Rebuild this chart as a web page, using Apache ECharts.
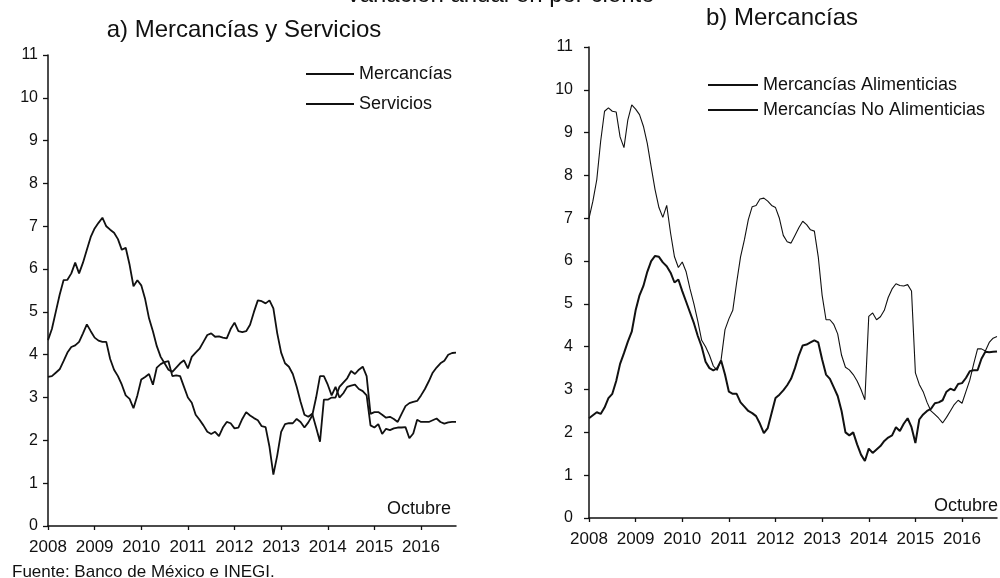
<!DOCTYPE html>
<html>
<head>
<meta charset="utf-8">
<script src="https://cdn.jsdelivr.net/npm/echarts@6/dist/echarts.min.js"></script>
<style>
html,body{margin:0;padding:0;background:#fff;}
#c{width:1000px;height:578px;}
</style>
</head>
<body>
<div id="c"></div>
<script>
// ---- data (monthly, Jan 2008 - Oct 2016) ----
const years = ['2008','2009','2010','2011','2012','2013','2014','2015','2016'];
const lastYearMonths = 10; // through Octubre 2016

const mercancias = [4.34,4.6,5.0,5.4,5.74,5.75,5.9,6.15,5.9,6.15,6.45,6.75,6.95,7.08,7.2,7.0,6.92,6.85,6.7,6.45,6.5,6.1,5.6,5.74,5.62,5.3,4.85,4.55,4.2,3.95,3.8,3.65,3.6,3.7,3.8,3.87,3.68,3.95,4.05,4.14,4.3,4.46,4.5,4.42,4.43,4.4,4.38,4.6,4.75,4.55,4.53,4.55,4.7,5.0,5.27,5.25,5.2,5.27,5.08,4.5,4.05,3.8,3.72,3.55,3.25,2.9,2.6,2.55,2.62,2.3,1.97,2.95,2.95,3.0,3.0,3.25,3.35,3.45,3.62,3.55,3.65,3.72,3.5,2.62,2.66,2.66,2.6,2.53,2.55,2.5,2.43,2.62,2.8,2.87,2.9,2.92,3.05,3.2,3.38,3.58,3.7,3.8,3.86,4.0,4.04,4.05];
const servicios = [3.48,3.5,3.58,3.66,3.85,4.05,4.18,4.22,4.3,4.5,4.71,4.55,4.4,4.33,4.3,4.3,3.9,3.65,3.5,3.3,3.05,2.97,2.75,3.05,3.42,3.48,3.55,3.3,3.7,3.78,3.83,3.85,3.5,3.52,3.5,3.25,3.0,2.88,2.6,2.48,2.35,2.2,2.15,2.2,2.1,2.3,2.43,2.4,2.28,2.3,2.5,2.66,2.58,2.52,2.47,2.33,2.31,1.85,1.2,1.65,2.2,2.38,2.4,2.4,2.5,2.43,2.3,2.42,2.58,3.0,3.5,3.5,3.3,3.05,3.25,3.0,3.1,3.25,3.28,3.3,3.2,3.15,3.05,2.35,2.3,2.38,2.15,2.27,2.24,2.28,2.3,2.3,2.31,2.05,2.16,2.48,2.43,2.43,2.43,2.47,2.51,2.43,2.39,2.42,2.43,2.43];
const alimenticias = [7.0,7.4,7.9,8.8,9.5,9.58,9.5,9.48,8.9,8.65,9.3,9.65,9.55,9.42,9.15,8.75,8.2,7.67,7.25,7.02,7.3,6.65,6.1,5.85,5.98,5.75,5.35,5.0,4.6,4.15,4.0,3.8,3.55,3.45,3.7,4.4,4.65,4.85,5.5,6.1,6.5,6.97,7.27,7.3,7.45,7.47,7.4,7.3,7.25,7.0,6.6,6.45,6.42,6.6,6.78,6.93,6.85,6.73,6.7,6.1,5.2,4.63,4.63,4.52,4.3,3.8,3.52,3.46,3.35,3.2,3.0,2.76,4.71,4.79,4.63,4.7,4.85,5.15,5.35,5.47,5.43,5.42,5.45,5.3,3.39,3.12,2.95,2.7,2.5,2.42,2.33,2.22,2.35,2.5,2.65,2.75,2.68,2.95,3.22,3.6,3.95,3.95,3.9,4.1,4.2,4.24];
const noAlimenticias = [2.33,2.4,2.47,2.43,2.58,2.8,2.9,3.2,3.6,3.85,4.12,4.35,4.85,5.2,5.42,5.75,6.0,6.12,6.1,5.97,5.88,5.73,5.5,5.57,5.3,5.05,4.8,4.55,4.25,4.0,3.65,3.5,3.45,3.5,3.68,3.35,2.95,2.9,2.9,2.7,2.6,2.5,2.45,2.38,2.2,1.98,2.1,2.45,2.8,2.88,2.98,3.1,3.25,3.5,3.8,4.03,4.05,4.1,4.15,4.1,3.7,3.35,3.25,3.05,2.85,2.5,2.0,1.93,2.0,1.72,1.48,1.33,1.62,1.52,1.6,1.68,1.8,1.88,1.93,2.12,2.03,2.2,2.33,2.12,1.75,2.3,2.42,2.5,2.55,2.68,2.7,2.75,2.95,3.02,2.98,3.13,3.15,3.27,3.43,3.45,3.45,3.72,3.88,3.87,3.88,3.89];
const yTicks = [0,1,2,3,4,5,6,7,8,9,10,11];

// month categories built from years
const months = [];
years.forEach((y, i) => {
  const n = (i === years.length - 1) ? lastYearMonths : 12;
  for (let m = 1; m <= n; m++) months.push(y + '-' + (m < 10 ? '0' + m : m));
});

const FONT = '"Liberation Sans", Arial, sans-serif';
const black = '#111';

function xAxis(gridIndex) {
  return {
    type: 'category', gridIndex, data: months, boundaryGap: false,
    axisLine: { show: true, lineStyle: { color: black, width: 1.5 } },
    axisTick: { show: true, length: 4, interval: (i) => i % 12 === 0, lineStyle: { color: black, width: 1.3 } },
    axisLabel: { interval: (i) => i % 12 === 0, formatter: (v) => v.slice(0, 4), color: black,
      fontFamily: FONT, fontSize: 17, margin: 13, hideOverlap: false },
    splitLine: { show: false }
  };
}
function yAxis(gridIndex, margin) {
  return {
    type: 'value', gridIndex, min: yTicks[0], max: yTicks[yTicks.length - 1], interval: 1,
    axisLine: { show: true, lineStyle: { color: black, width: 1.5 } },
    axisTick: { show: true, length: 5, lineStyle: { color: black, width: 1.3 } },
    axisLabel: { color: black, fontFamily: FONT, fontSize: 16, margin },
    splitLine: { show: false }
  };
}
function line(name, data, xi, width) {
  return { name, type: 'line', xAxisIndex: xi, yAxisIndex: xi, data, symbol: 'none',
    showSymbol: false, smooth: false, animation: false,
    itemStyle: { color: black }, lineStyle: { color: black, width } };
}

const chart = echarts.init(document.getElementById('c'), null, { renderer: 'canvas' });
chart.setOption({
  animation: false,
  backgroundColor: '#fff',
  grid: [
    { left: 48, top: 55, width: 408, height: 471, containLabel: false, outerBoundsMode: 'none' },
    { left: 589, top: 47, width: 408, height: 471, containLabel: false, outerBoundsMode: 'none' }
  ],
  xAxis: [xAxis(0), xAxis(1)],
  yAxis: [yAxis(0, 10), yAxis(1, 16)],
  legend: [
    { data: ['Mercancías', 'Servicios'], orient: 'vertical', left: 301, top: 59,
      itemWidth: 48, itemHeight: 2, icon: 'rect', itemGap: 10,
      textStyle: { color: black, fontFamily: FONT, fontSize: 18, lineHeight: 20 } },
    { data: ['Mercancías Alimenticias', 'Mercancías No Alimenticias'], orient: 'vertical', left: 703, top: 70,
      itemWidth: 50, itemHeight: 2, icon: 'rect', itemGap: 5,
      textStyle: { color: black, fontFamily: FONT, fontSize: 18, lineHeight: 20 } }
  ],
  series: [
    line('Mercancías', mercancias, 0, 1.8),
    line('Servicios', servicios, 0, 1.8),
    line('Mercancías Alimenticias', alimenticias, 1, 1.1),
    line('Mercancías No Alimenticias', noAlimenticias, 1, 2)
  ],
  graphic: [
    { type: 'text', left: 'center', top: -17, style: { text: 'Variación anual en por ciento', font: '24px ' + FONT, fill: black } },
    { type: 'text', x: 244, y: 30, style: { text: 'a) Mercancías y Servicios', font: '24px ' + FONT, fill: black, textAlign: 'center', textVerticalAlign: 'middle' } },
    { type: 'text', x: 782, y: 18, style: { text: 'b) Mercancías', font: '24px ' + FONT, fill: black, textAlign: 'center', textVerticalAlign: 'middle' } },
    { type: 'text', x: 451, y: 509, style: { text: 'Octubre', font: '18px ' + FONT, fill: black, textAlign: 'right', textVerticalAlign: 'middle' } },
    { type: 'text', x: 998, y: 506, style: { text: 'Octubre', font: '18px ' + FONT, fill: black, textAlign: 'right', textVerticalAlign: 'middle' } },
    { type: 'text', x: 12, y: 572, style: { text: 'Fuente: Banco de México e INEGI.', font: '17px ' + FONT, fill: black, textAlign: 'left', textVerticalAlign: 'middle' } }
  ]
});
</script>
</body>
</html>
